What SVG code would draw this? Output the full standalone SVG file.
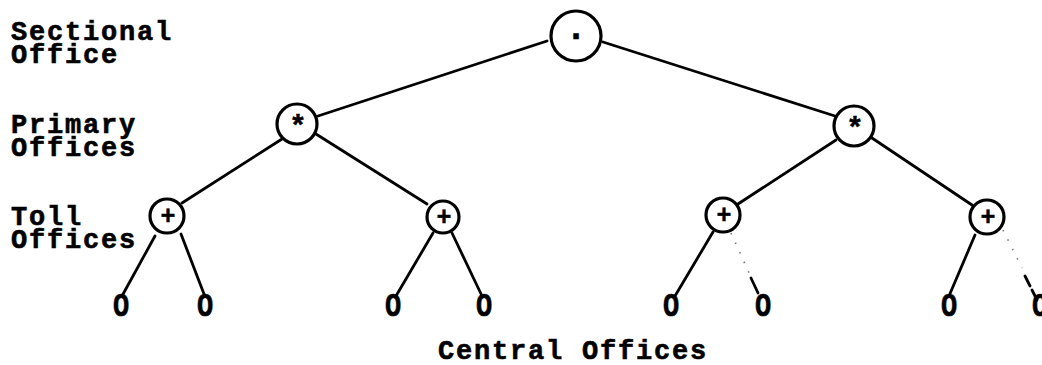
<svg xmlns="http://www.w3.org/2000/svg" width="1042" height="365" viewBox="0 0 1042 365">
  <style>
    .lbl { font-family: "Liberation Mono", "DejaVu Sans Mono", monospace; font-size: 27px; font-weight: bold; letter-spacing: 1.8px; fill: #000; stroke: #000; stroke-width: 0.6; }
    .leaf { font-family: "Liberation Mono", "DejaVu Sans Mono", monospace; font-size: 27px; font-weight: bold; fill: #000; stroke: #000; stroke-width: 0.5; text-anchor: middle; }
    .sym { font-family: "Liberation Mono", "DejaVu Sans Mono", monospace; font-weight: bold; fill: #000; stroke: #000; stroke-width: 0.5; text-anchor: middle; }
    .node { fill: #fff; stroke: #000; stroke-width: 3.2; }
    .edge { stroke: #000; stroke-width: 2.8; fill: none; stroke-linecap: round; }
    .faint { stroke: #777; stroke-width: 1.6; fill: none; stroke-dasharray: 1.5 9; }
  </style>
  <rect width="1042" height="365" fill="#fff"/>

  <!-- level labels -->
  <g id="labels">
    <text class="lbl" x="11" y="40">Sectional</text>
    <text class="lbl" x="11" y="63">Office</text>
    <text class="lbl" x="11" y="133">Primary</text>
    <text class="lbl" x="11" y="156">Offices</text>
    <text class="lbl" x="11" y="225">Toll</text>
    <text class="lbl" x="11" y="248">Offices</text>
    <text class="lbl" x="438" y="359">Central Offices</text>
  </g>

  <!-- connectors -->
  <g id="connectors">
    <line class="edge" x1="547" y1="41" x2="318" y2="116"/>
    <line class="edge" x1="603" y1="42" x2="835" y2="116"/>
    <line class="edge" x1="282" y1="139" x2="182" y2="203"/>
    <line class="edge" x1="316" y1="134" x2="427" y2="204"/>
    <line class="edge" x1="836" y1="140" x2="738" y2="204"/>
    <line class="edge" x1="866" y1="134" x2="972" y2="205"/>
    <line class="edge" x1="155" y1="236" x2="122" y2="296"/>
    <line class="edge" x1="181" y1="234" x2="204" y2="294"/>
    <line class="edge" x1="433" y1="233" x2="396" y2="296"/>
    <line class="edge" x1="452" y1="233" x2="482" y2="296"/>
    <line class="edge" x1="713" y1="232" x2="675" y2="296"/>
    <line class="faint" x1="731" y1="233" x2="750" y2="275"/>
    <line class="edge" x1="751" y1="278" x2="758" y2="293"/>
    <line class="edge" x1="975" y1="235" x2="949" y2="296"/>
    <line class="faint" x1="1003" y1="230" x2="1022" y2="268"/>
    <line class="edge" x1="1025" y1="276" x2="1030" y2="286" stroke-width="2"/>
    <line class="edge" x1="1032" y1="290" x2="1037" y2="300" stroke-width="2"/>
  </g>

  <!-- sectional office -->
  <g id="sectional">
    <circle class="node" cx="576" cy="36" r="25"/>
    <text class="sym" x="576" y="47" font-size="36">·</text>
  </g>

  <!-- primary offices -->
  <g id="primary-left">
    <circle class="node" cx="297" cy="124" r="20"/>
    <text class="sym" x="298" y="136" font-size="29">*</text>
  </g>
  <g id="primary-right">
    <circle class="node" cx="854" cy="126" r="20"/>
    <text class="sym" x="855" y="138" font-size="29">*</text>
  </g>

  <!-- toll offices -->
  <g id="toll-1">
    <circle class="node" cx="167" cy="216" r="17"/>
    <text class="sym" x="168" y="224" font-size="25">+</text>
  </g>
  <g id="toll-2">
    <circle class="node" cx="443" cy="217" r="16"/>
    <text class="sym" x="444" y="225" font-size="25">+</text>
  </g>
  <g id="toll-3">
    <circle class="node" cx="723" cy="215" r="17"/>
    <text class="sym" x="724" y="223" font-size="25">+</text>
  </g>
  <g id="toll-4">
    <circle class="node" cx="987" cy="217" r="17"/>
    <text class="sym" x="988" y="225" font-size="25">+</text>
  </g>

  <!-- central offices (glyphs stretched a little taller) -->
  <g id="central-1"><text class="leaf" transform="translate(121 316) scale(1 1.25)">O</text></g>
  <g id="central-2"><text class="leaf" transform="translate(205 316) scale(1 1.25)">O</text></g>
  <g id="central-3"><text class="leaf" transform="translate(393 316) scale(1 1.25)">O</text></g>
  <g id="central-4"><text class="leaf" transform="translate(484 316) scale(1 1.25)">O</text></g>
  <g id="central-5"><text class="leaf" transform="translate(671 316) scale(1 1.25)">O</text></g>
  <g id="central-6"><text class="leaf" transform="translate(763 316) scale(1 1.25)">O</text></g>
  <g id="central-7"><text class="leaf" transform="translate(949 316) scale(1 1.25)">O</text></g>
  <g id="central-8"><text class="leaf" transform="translate(1040 316) scale(1 1.25)">O</text></g>
</svg>
